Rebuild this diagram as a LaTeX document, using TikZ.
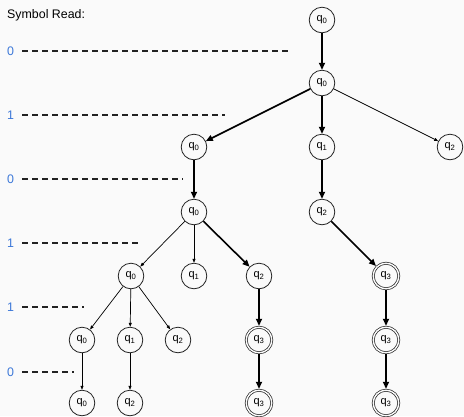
\documentclass[tikz,border=0pt]{standalone}
\usepackage{fontspec}
\setmainfont{Liberation Sans}
\usetikzlibrary{arrows.meta}
\definecolor{bg}{HTML}{FAFAFA}
\definecolor{lblue}{HTML}{3C78D8}
\definecolor{ink}{HTML}{222222}
\tikzset{
  st/.style={circle, draw=ink, line width=0.8pt, minimum size=25.6pt, inner sep=0pt, font=\fontsize{11}{13}\selectfont},
  acc/.style={st, double=bg, double distance=1.4pt, line width=0.7pt, outer sep=1.4pt},
  thk/.style={draw=black, line width=1.6pt, -{Triangle[length=7pt,width=6pt]}},
  thn/.style={draw=black, line width=0.7pt, -{Triangle[length=4pt,width=3pt]}},
  lvl/.style={draw=ink, line width=1.3pt, dash pattern=on 6pt off 4pt},
  dig/.style={text=lblue, inner sep=0pt, font=\fontsize{12.4}{14}\selectfont},
}
\newcommand{\qs}[1]{q\textsubscript{#1}}
\begin{document}
\begin{tikzpicture}[x=1pt,y=-1pt]
\fill[bg] (0,0) rectangle (464,416);
\useasboundingbox (0,0) rectangle (464,416);
\node[anchor=base west, inner sep=0pt, font=\fontsize{12.4}{14}\selectfont] (title) at (7,18) {Symbol Read:};
% level labels and dashed lines
\node[dig] (l0) at (10.5,51) {0};
\node[dig] (l1) at (10.5,115) {1};
\node[dig] (l2) at (10.5,179) {0};
\node[dig] (l3) at (10.5,243) {1};
\node[dig] (l4) at (10.5,307) {1};
\node[dig] (l5) at (10.5,372) {0};
\coordinate (e0) at (290,51);
\coordinate (e1) at (225,115);
\coordinate (e2) at (183,179);
\coordinate (e3) at (138,243);
\coordinate (e4) at (84,307);
\coordinate (e5) at (74,372);
\foreach \i in {0,...,5}{\draw[lvl] ([xshift=11.5pt]l\i.center) -- (e\i);}
% nodes
\node[st] (a) at (322,20) {\qs{0}};
\node[st] (b) at (322,83) {\qs{0}};
\node[st] (c0) at (194,147) {\qs{0}};
\node[st] (c1) at (322,147) {\qs{1}};
\node[st] (c2) at (450,147) {\qs{2}};
\node[st] (d0) at (194,212) {\qs{0}};
\node[st] (d2) at (322,212) {\qs{2}};
\node[st] (f0) at (131,276) {\qs{0}};
\node[st] (f1) at (194,276) {\qs{1}};
\node[st] (f2) at (259,276) {\qs{2}};
\node[acc] (f3) at (386,276) {\qs{3}};
\node[st] (g0) at (82,340) {\qs{0}};
\node[st] (g1) at (130,340) {\qs{1}};
\node[st] (g2) at (178,340) {\qs{2}};
\node[acc] (g3) at (259,340) {\qs{3}};
\node[acc] (g4) at (386,340) {\qs{3}};
\node[st] (h0) at (82,403) {\qs{0}};
\node[st] (h2) at (130,403) {\qs{2}};
\node[acc] (h3) at (259,403) {\qs{3}};
\node[acc] (h4) at (386,403) {\qs{3}};
% edges
\draw[thk] (a) -- (b);
\draw[thk] (b) -- (c0);
\draw[thk] (b) -- (c1);
\draw[thn] (b) -- (c2);
\draw[thk] (c0) -- (d0);
\draw[thk] (c1) -- (d2);
\draw[thn] (d0) -- (f0);
\draw[thn] (d0) -- (f1);
\draw[thk] (d0) -- (f2);
\draw[thk] (d2) -- (f3);
\draw[thn] (f0) -- (g0);
\draw[thn] (f0) -- (g1);
\draw[thn] (f0) -- (g2);
\draw[thk] (f2) -- (g3);
\draw[thk] (f3) -- (g4);
\draw[thn] (g0) -- (h0);
\draw[thn] (g1) -- (h2);
\draw[thk] (g3) -- (h3);
\draw[thk] (g4) -- (h4);
\end{tikzpicture}
\end{document}
